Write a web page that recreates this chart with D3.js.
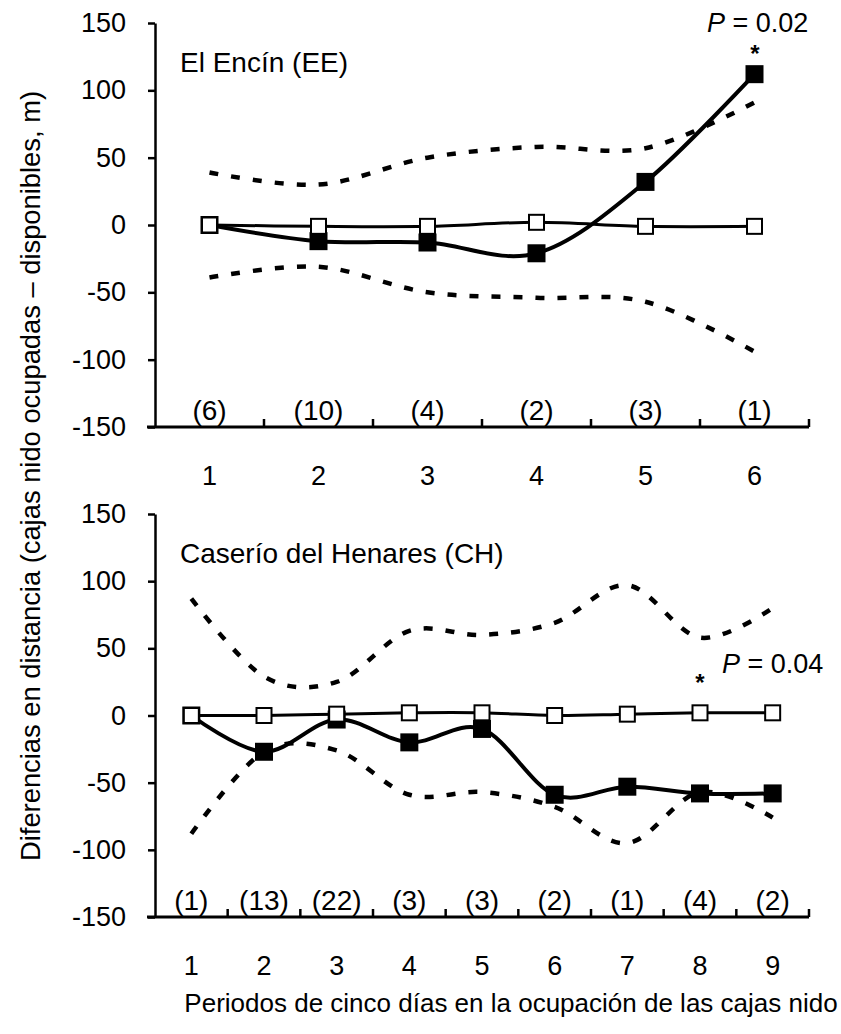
<!DOCTYPE html>
<html>
<head>
<meta charset="utf-8">
<script src="https://cdn.jsdelivr.net/npm/d3@7"></script>
<style>
  body { margin: 0; background: #fff; }
  svg text { font-family: "Liberation Sans", Arial, sans-serif; fill: #000; }
</style>
</head>
<body>
<div id="chart"></div>
<script>
const WIDTH = 841
const HEIGHT = 1034
const FONT_SIZE = 27

// Y axis values shared by both panels
const yTicks = [150, 100, 50, 0, -50, -100, -150]

// El Encín (EE)
const eePeriods = ['1', '2', '3', '4', '5', '6']
const eeCounts = ['(6)', '(10)', '(4)', '(2)', '(3)', '(1)']
const eeAvailable = [0, -1, -1, 2, -1, -1]
const eeOccupied = [0, -12, -13, -21, 32, 112]
const eeUpper = [39, 30, 50, 58, 57, 91]
const eeLower = [-39, -31, -50, -54, -57, -94]

// Caserío del Henares (CH)
const chPeriods = ['1', '2', '3', '4', '5', '6', '7', '8', '9']
const chCounts = ['(1)', '(13)', '(22)', '(3)', '(3)', '(2)', '(1)', '(4)', '(2)']
const chAvailable = [0, 0, 1, 2, 2, 0, 1, 2, 2]
const chOccupied = [0, -27, -3, -20, -10, -59, -53, -58, -58]
const chUpper = [87, 29, 25, 63, 60, 69, 97, 58, 80]
const chLower = [-88, -27, -26, -59, -57, -68, -95, -57, -76]

const svg = d3.select('#chart')
    .append('svg')
    .attr('width', WIDTH)
    .attr('height', HEIGHT)

function drawPanel(opts) {
    const { periods, counts, available, occupied, upper, lower, top, bottom, title, titleY, pText, pX, pY, starX, starY } = opts

    const x = d3.scaleBand().domain(periods).range([155, 809]).padding(0)
    const y = d3.scaleLinear().domain([-150, 150]).range([bottom, top])
    const g = svg.append('g')

    // Y axis (plain hyphen for negatives, as in the original)
    const yAxis = g.append('g')
        .attr('transform', 'translate(155,0)')
        .call(d3.axisLeft(y)
            .tickValues(yTicks)
            .tickFormat(d => String(d))
            .tickSize(7).tickPadding(22).tickSizeOuter(0))
    yAxis.select('.domain').attr('stroke-width', 2.5)
    yAxis.selectAll('.tick line').attr('stroke-width', 2.5)
    yAxis.selectAll('text')
        .attr('font-size', FONT_SIZE)
        .attr('font-family', '"Liberation Sans", Arial, sans-serif')

    // X axis line and boundary ticks (pointing up)
    g.append('line')
        .attr('x1', 147).attr('x2', 809)
        .attr('y1', bottom).attr('y2', bottom)
        .attr('stroke', '#000').attr('stroke-width', 3)
    g.selectAll('.bound-tick')
        .data(periods)
        .enter()
        .append('line')
        .attr('class', 'bound-tick')
        .attr('x1', d => x(d) + x.bandwidth())
        .attr('x2', d => x(d) + x.bandwidth())
        .attr('y1', bottom)
        .attr('y2', bottom - 8)
        .attr('stroke', '#000').attr('stroke-width', 2.5)

    // Period labels
    const xAxis = g.append('g')
        .attr('transform', `translate(0,${bottom})`)
        .call(d3.axisBottom(x).tickSize(0).tickPadding(39))
    xAxis.select('.domain').remove()
    xAxis.selectAll('text')
        .attr('font-size', FONT_SIZE)
        .attr('font-family', '"Liberation Sans", Arial, sans-serif')

    // Sample sizes
    g.selectAll('.count')
        .data(counts)
        .enter()
        .append('text')
        .attr('class', 'count')
        .attr('x', (d, i) => x(periods[i]) + x.bandwidth() / 2)
        .attr('y', bottom - 7)
        .attr('text-anchor', 'middle')
        .attr('font-size', 28)
        .text(d => d)

    const line = d3.line()
        .x((d, i) => x(periods[i]) + x.bandwidth() / 2)
        .y(d => y(d))
        .curve(d3.curveCardinal.tension(0))

    // Confidence limits
    ;[upper, lower].forEach(series => {
        g.append('path')
            .attr('d', line(series))
            .attr('fill', 'none')
            .attr('stroke', '#000')
            .attr('stroke-width', 4.5)
            .attr('stroke-dasharray', '9,13')
    })

    // Occupied boxes (filled)
    g.append('path')
        .attr('d', line(occupied))
        .attr('fill', 'none')
        .attr('stroke', '#000')
        .attr('stroke-width', 4)
    g.selectAll('.occ')
        .data(occupied)
        .enter()
        .append('rect')
        .attr('class', 'occ')
        .attr('x', (d, i) => x(periods[i]) + x.bandwidth() / 2 - 9)
        .attr('y', d => y(d) - 9)
        .attr('width', 18).attr('height', 18)
        .attr('fill', '#000')

    // Available boxes (open)
    g.append('path')
        .attr('d', line(available))
        .attr('fill', 'none')
        .attr('stroke', '#000')
        .attr('stroke-width', 3)
    g.selectAll('.avail')
        .data(available)
        .enter()
        .append('rect')
        .attr('class', 'avail')
        .attr('x', (d, i) => x(periods[i]) + x.bandwidth() / 2 - 7.5)
        .attr('y', d => y(d) - 7.5)
        .attr('width', 15).attr('height', 15)
        .attr('fill', '#fff')
        .attr('stroke', '#000')
        .attr('stroke-width', 2)

    // Panel title
    g.append('text')
        .attr('x', 180).attr('y', titleY)
        .attr('font-size', 28)
        .text(title)

    // Significance
    const p = g.append('text')
        .attr('x', pX).attr('y', pY)
        .attr('font-size', FONT_SIZE)
    p.append('tspan').attr('font-style', 'italic').text('P')
    p.append('tspan').text(' = ' + pText)
    g.append('text')
        .attr('x', starX).attr('y', starY)
        .attr('text-anchor', 'middle')
        .attr('font-size', 24)
        .attr('font-weight', 'bold')
        .text('*')
}

drawPanel({
    periods: eePeriods, counts: eeCounts,
    available: eeAvailable, occupied: eeOccupied, upper: eeUpper, lower: eeLower,
    top: 23, bottom: 427,
    title: 'El Encín (EE)', titleY: 72,
    pText: '0.02', pX: 707, pY: 32, starX: 755, starY: 62
})

drawPanel({
    periods: chPeriods, counts: chCounts,
    available: chAvailable, occupied: chOccupied, upper: chUpper, lower: chLower,
    top: 514, bottom: 917,
    title: 'Caserío del Henares (CH)', titleY: 563,
    pText: '0.04', pX: 722, pY: 673, starX: 700, starY: 691
})

// Axis titles
svg.append('text')
    .attr('transform', 'translate(40,476) rotate(-90)')
    .attr('text-anchor', 'middle')
    .attr('font-size', 27)
    .attr('textLength', 770)
    .attr('lengthAdjust', 'spacingAndGlyphs')
    .text('Diferencias en distancia (cajas nido ocupadas – disponibles, m)')

svg.append('text')
    .attr('x', 511).attr('y', 1012)
    .attr('text-anchor', 'middle')
    .attr('font-size', 26)
    .text('Periodos de cinco días en la ocupación de las cajas nido')
</script>
</body>
</html>
